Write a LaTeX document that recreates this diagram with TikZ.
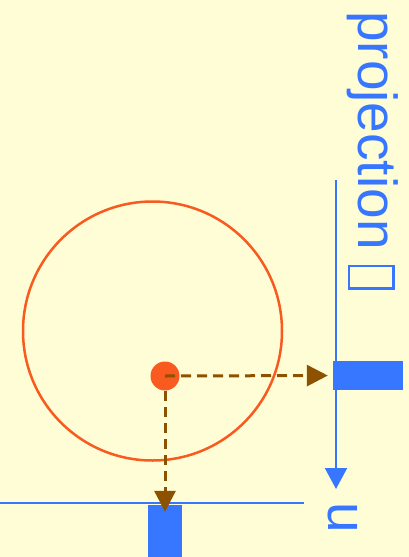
\documentclass[tikz,border=0pt]{standalone}
\usepackage{fontspec}
\setmainfont{Liberation Sans}
\usetikzlibrary{arrows.meta,positioning}
\definecolor{paper}{HTML}{FFFDD6}
\definecolor{projblue}{HTML}{3777FF}
\definecolor{ballred}{HTML}{F85A1F}
\definecolor{dashbrown}{HTML}{8C5200}

\begin{document}
\begin{tikzpicture}[
    x=1pt, y=-1pt,
    font=\fontsize{55}{60}\selectfont,
    axisline/.style={
        draw=projblue,
        line width=2pt
    },
    projbar/.style={
        fill=projblue,
        draw=none,
        inner sep=0pt
    },
    projarrow/.style={
        draw=dashbrown,
        line width=3pt,
        dash pattern=on 10pt off 6pt,
        -{Triangle[length=21pt,width=21pt,fill=dashbrown]}
    },
    axislabel/.style={
        text=projblue,
        rotate=-90,
        anchor=base west,
        inner sep=0pt
    }
]

% Background and frame
\useasboundingbox (0,0) rectangle (409,557);
\fill[paper] (0,0) rectangle (409,557);

% Circle and its point
\draw[ballred, line width=2.5pt] (152.5,331) circle[radius=129.5];
\node[circle, fill=ballred, minimum size=29pt, inner sep=0pt] (point) at (165,376) {};

% Vertical projection axis
\coordinate (axtop) at (336,180);
\coordinate (axtip) at (336,489);
\draw[axisline, -{Triangle[length=21pt,width=22pt]}] (axtop) -- (axtip);
\node[axislabel] (ulabel) at (328,502) {u};
\node[axislabel] (projlabel) at (358,11) {projection {\setlength\fboxsep{0pt}\setlength\fboxrule{2.5pt}\raisebox{-8pt}{\fbox{\rule{0pt}{42pt}\hspace{20pt}}}}};

% Horizontal axis
\coordinate (hxleft) at (0,502.7);
\coordinate (hxright) at (304,502.7);
\draw[axisline] (hxleft) -- (hxright);

% Projection bars
\node[projbar, minimum width=70pt, minimum height=29pt] (rbar) at (368,375.5) {};
\node[projbar, minimum width=34pt, minimum height=52pt] (bbar) at (165,531) {};

% Projection arrows
\draw[projarrow, shorten >=5pt] (point.center) -- (rbar.west);
\draw[projarrow, shorten >=-7pt] (point.south) -- (bbar.north);

\end{tikzpicture}
\end{document}
